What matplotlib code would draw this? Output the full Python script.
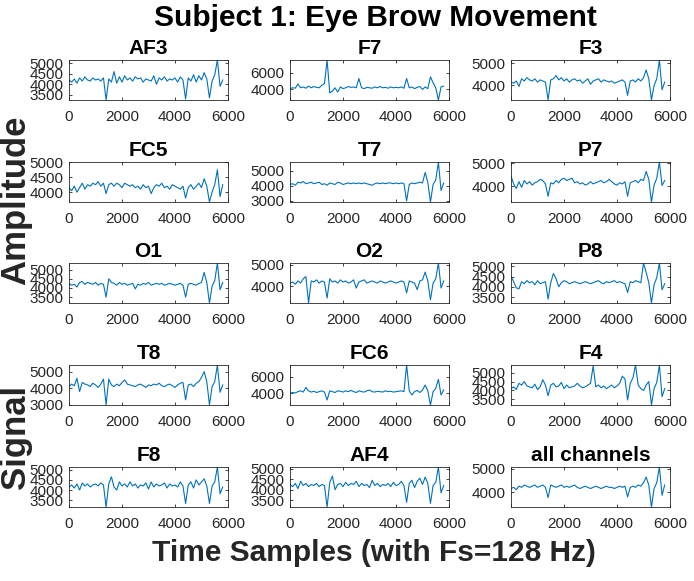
import numpy as np
import matplotlib
matplotlib.use("Agg")
import matplotlib.pyplot as plt

plt.rcParams['font.family'] = ['Liberation Sans', 'DejaVu Sans']

# sample index of each value (every 100 samples)
samples = np.arange(0, 5900, 100)

channels = ["AF3", "F7", "F3", "FC5", "T7", "P7", "O1", "O2", "P8",
            "T8", "FC6", "F4", "F8", "AF4", "all channels"]

af3 = [4200, 4100, 4250, 4050, 4300, 4150, 4350, 4200, 4150, 4300, 4200, 4250, 4150, 4300,
       3250, 4250, 4100, 4600, 4050, 4350, 4100, 4400, 4200, 4300, 4150, 4350, 4250, 4300,
       4100, 4250, 4200, 4150, 4400, 4000, 4300, 4200, 4350, 4150, 4250, 4200, 4300, 4100,
       4350, 4200, 3300, 4300, 4150, 4450, 4100, 4400, 4200, 4550, 4250, 3350, 4150, 4450,
       5150, 3900, 4200]
f7 = [4100, 4200, 4150, 4650, 4200, 4300, 4150, 4400, 4200, 4350, 4250, 4200, 4500, 4700,
      7500, 3600, 3800, 4200, 3700, 4300, 4100, 4200, 4350, 4250, 4300, 4200, 5300, 4200,
      4100, 4250, 4200, 4150, 4300, 4200, 4350, 4200, 4250, 4150, 4300, 4200, 4250, 4200,
      4300, 4150, 5300, 4200, 4300, 4100, 4250, 4350, 4000, 4300, 4100, 5500, 4800, 4200,
      2750, 4300, 4400]
f3 = [4150, 4100, 4200, 3950, 4300, 4200, 4350, 4250, 4200, 4300, 4150, 4250, 4200, 4150,
      3340, 4250, 4300, 4450, 4250, 4350, 4200, 4300, 4150, 4250, 4300, 4200, 4250, 4100,
      4200, 4300, 4050, 4200, 4250, 4300, 4150, 4250, 4200, 4150, 4200, 4100, 4150, 4200,
      4250, 4150, 3550, 4200, 4250, 4150, 4300, 4200, 4350, 4700, 4300, 3340, 4000, 4300,
      5150, 3800, 4150]
fc5 = [4150, 4050, 4200, 4000, 4150, 4300, 4100, 4250, 4200, 4300, 4250, 4350, 4200, 4300,
       3950, 4250, 4300, 4200, 4300, 4250, 4150, 4300, 4250, 4200, 4250, 4150, 4200, 4100,
       4250, 4150, 4200, 3950, 4150, 4250, 4200, 4300, 4150, 4200, 4100, 4250, 4200, 4150,
       4100, 4200, 3800, 4150, 4250, 4100, 4200, 4300, 4150, 4450, 4200, 3670, 4000, 4250,
       4750, 3850, 4250]
t7 = [4100, 4150, 4050, 4250, 4200, 4300, 4150, 4200, 4250, 4150, 4200, 4250, 4100, 4150,
      4050, 4200, 4150, 4100, 4250, 4200, 4100, 4150, 4200, 4150, 4200, 4150, 4200, 4150,
      4200, 4150, 4100, 4050, 4150, 4200, 4150, 4200, 4150, 4200, 4200, 4150, 4200, 4150,
      4200, 4150, 3000, 4100, 4200, 4150, 4200, 4250, 4200, 4900, 4250, 2930, 4100, 4400,
      5600, 3700, 4200]
p7 = [4450, 4100, 3900, 4200, 3950, 4250, 4100, 4200, 4050, 4150, 4200, 4300, 4250, 4100,
      3560, 4150, 4100, 4250, 4150, 4300, 4350, 4250, 4300, 4350, 4150, 4200, 4100, 4150,
      4050, 4100, 4200, 4100, 4150, 4200, 4250, 4150, 4200, 4300, 4200, 4100, 4050, 4150,
      4100, 4200, 3560, 4150, 4200, 4250, 4150, 4300, 4250, 4650, 4300, 3310, 4050, 4350,
      5060, 4030, 4250]
o1 = [4250, 4150, 4200, 4050, 4300, 4350, 4200, 4300, 4250, 4200, 4300, 4150, 4250, 4200,
      3500, 4500, 4300, 4250, 4150, 4300, 4200, 4250, 4150, 4200, 4250, 3950, 4200, 4150,
      4250, 4200, 4300, 4150, 4200, 4250, 4200, 4250, 4150, 4200, 4250, 4200, 4150, 4200,
      4250, 4150, 3500, 4200, 4250, 4200, 4150, 4250, 4300, 4850, 4300, 3180, 4100, 4400,
      5360, 3900, 4300]
o2 = [4150, 4200, 4100, 4250, 4150, 4350, 4450, 3230, 4250, 4200, 4300, 4150, 4250, 4200,
      3460, 4350, 4200, 4250, 4150, 4300, 4200, 4250, 4150, 4200, 4300, 3920, 4200, 4250,
      4300, 4150, 4200, 4250, 4200, 4150, 4250, 4200, 4150, 4200, 4250, 4200, 4150, 4200,
      4250, 4200, 3700, 4250, 4200, 4150, 3850, 4250, 4300, 4660, 4250, 3380, 4150, 4350,
      5080, 3920, 4250]
p8 = [4500, 4250, 3950, 3900, 4250, 4150, 4300, 4200, 4250, 4100, 4300, 4150, 4200, 4250,
      3400, 4200, 4650, 4400, 4000, 4200, 4300, 4250, 4150, 4200, 4250, 4200, 4150, 4200,
      4250, 4200, 4150, 4200, 4250, 4300, 4200, 4150, 4250, 4200, 4250, 4300, 4200, 4250,
      4200, 4150, 3720, 4250, 4200, 4300, 4250, 4200, 5150, 4700, 4200, 3210, 4100, 4450,
      5160, 3850, 4150]
t8 = [4100, 4250, 4150, 4600, 3800, 4350, 4250, 4200, 4100, 4300, 4200, 4050, 4250, 4550,
      3000, 4550, 4200, 4100, 4250, 4150, 4350, 4500, 4250, 4200, 4150, 4100, 4200, 4250,
      4150, 4050, 4200, 4150, 4250, 4200, 4300, 4150, 4100, 4200, 4250, 4150, 4050, 4200,
      4300, 4350, 3300, 4200, 4250, 4100, 4300, 4400, 4650, 5000, 4400, 3000, 4100, 4400,
      5400, 3760, 4200]
fc6 = [4000, 4100, 4050, 4200, 4300, 4150, 4700, 4300, 4150, 4250, 4100, 4200, 4300, 4150,
       3200, 4300, 4200, 4100, 4300, 4250, 4150, 4300, 4200, 4350, 4200, 4100, 4300, 4200,
       4150, 4300, 4400, 4200, 4150, 4250, 4200, 4150, 4300, 4200, 4250, 4150, 4200, 4250,
       4300, 4200, 7400, 4300, 3800, 4200, 4350, 4100, 4400, 5000, 4300, 2600, 4200, 4600,
       5680, 3800, 4400]
f4 = [4100, 4200, 4050, 4400, 4300, 4500, 4250, 4200, 4150, 4350, 4050, 4200, 4600, 4300,
      3700, 4300, 4400, 4200, 4250, 4450, 4100, 4300, 4150, 4200, 4250, 4400, 4250, 4150,
      4200, 4300, 4400, 5375, 4200, 4300, 4150, 4250, 4100, 4200, 4300, 4150, 4250, 4400,
      4800, 4650, 3460, 4400, 4700, 5430, 4300, 4100, 4000, 4300, 4500, 3180, 4100, 4450,
      5430, 3650, 4100]
f8 = [4150, 4250, 4100, 4300, 4000, 4350, 4200, 4300, 4150, 4250, 4300, 4200, 4350, 4250,
      3170, 4300, 4650, 4150, 4000, 4400, 4200, 4300, 4150, 4400, 4200, 4300, 4100, 4250,
      4200, 4350, 4050, 4400, 4150, 4300, 4200, 4250, 4350, 4100, 4300, 4200, 4250, 4150,
      4400, 4200, 3340, 4250, 4400, 4100, 4500, 4250, 4400, 4550, 4200, 3340, 4200, 4400,
      5130, 3820, 4150]
af4 = [4250, 4150, 4300, 4050, 4400, 4200, 4300, 4150, 4250, 4200, 4300, 4150, 4250, 4200,
       3180, 4350, 4650, 4000, 4250, 4300, 4150, 4350, 4200, 4300, 4250, 4400, 4150, 4300,
       4200, 4250, 4100, 4450, 4200, 4300, 4150, 4250, 4200, 4300, 4150, 4350, 4200, 4250,
       4400, 4200, 3400, 4300, 4450, 4100, 4400, 4550, 4250, 4600, 4300, 3350, 4200, 4350,
       5080, 3850, 4200]
allch = [4150, 4200, 4100, 4250, 4200, 4300, 4250, 4200, 4250, 4300, 4200, 4250, 4300, 4200,
         3760, 4300, 4250, 4200, 4250, 4300, 4200, 4250, 4200, 4250, 4300, 4200, 4150, 4200,
         4250, 4200, 4150, 4200, 4250, 4200, 4150, 4200, 4250, 4200, 4200, 4150, 4200, 4250,
         4200, 4250, 3790, 4200, 4250, 4200, 4300, 4250, 4400, 4640, 4300, 3360, 4150, 4400,
         5070, 3860, 4300]

signals = [af3, f7, f3, fc5, t7, p7, o1, o2, p8, t8, fc6, f4, f8, af4, allch]

ylims = [(3250, 5150), (2750, 7500), (3340, 5150), (3670, 5010), (2930, 5600),
         (3310, 5060), (3180, 5360), (3230, 5080), (3210, 5160), (2990, 5400),
         (2600, 7400), (3180, 5430), (3170, 5130), (3180, 5080), (3360, 5070)]
yticks = [[3500, 4000, 4500, 5000], [4000, 6000], [4000, 5000], [4000, 4500, 5000],
          [3000, 4000, 5000], [4000, 5000], [3500, 4000, 4500, 5000], [4000, 5000],
          [3500, 4000, 4500, 5000], [3000, 4000, 5000], [4000, 6000],
          [3500, 4000, 4500, 5000], [3500, 4000, 4500, 5000], [3500, 4000, 4500, 5000],
          [4000, 5000]]
xticks = [0, 2000, 4000, 6000]

W, H = 694, 581
fig = plt.figure(figsize=(W / 100, H / 100), dpi=100)
fig.patch.set_facecolor('white')

col_left = [69, 290, 511]
row_top = [60, 162, 263, 365, 467]
ax_w, ax_h = 159, 40
grey = '#262626'

for k, name in enumerate(channels):
    r, c = divmod(k, 3)
    ax = fig.add_axes([col_left[c] / W, 1 - (row_top[r] + ax_h) / H, ax_w / W, ax_h / H])
    ax.plot(samples, signals[k], color='#0072BD', lw=0.8)
    ax.set_xlim(0, 6000)
    ax.set_ylim(*ylims[k])
    ax.set_xticks(xticks)
    ax.set_yticks(yticks[k])
    ax.tick_params(direction='in', length=2.5, width=0.6, colors=grey,
                   labelsize=11, top=True, right=True, pad=4)
    ax.tick_params(axis='x', pad=7)
    for s in ax.spines.values():
        s.set_color(grey)
        s.set_linewidth(0.6)
    ax.set_title(name, fontsize=15, fontweight='bold', pad=4)

fig.text(375 / W, 1 - 18 / H, "Subject 1: Eye Brow Movement", ha='center', va='center',
         fontsize=21.5, fontweight='bold')
fig.text(374 / W, 1 - 553 / H, "Time Samples (with Fs=128 Hz)", ha='center', va='center',
         fontsize=21.5, fontweight='bold', color=grey)
fig.text(16 / W, 1 - 200 / H, "Amplitude", ha='center', va='center', rotation=90,
         fontsize=25, fontweight='bold', color=grey)
fig.text(16 / W, 1 - 437 / H, "Signal", ha='center', va='center', rotation=90,
         fontsize=25, fontweight='bold', color=grey)

fig.savefig('out.png', dpi=100)
